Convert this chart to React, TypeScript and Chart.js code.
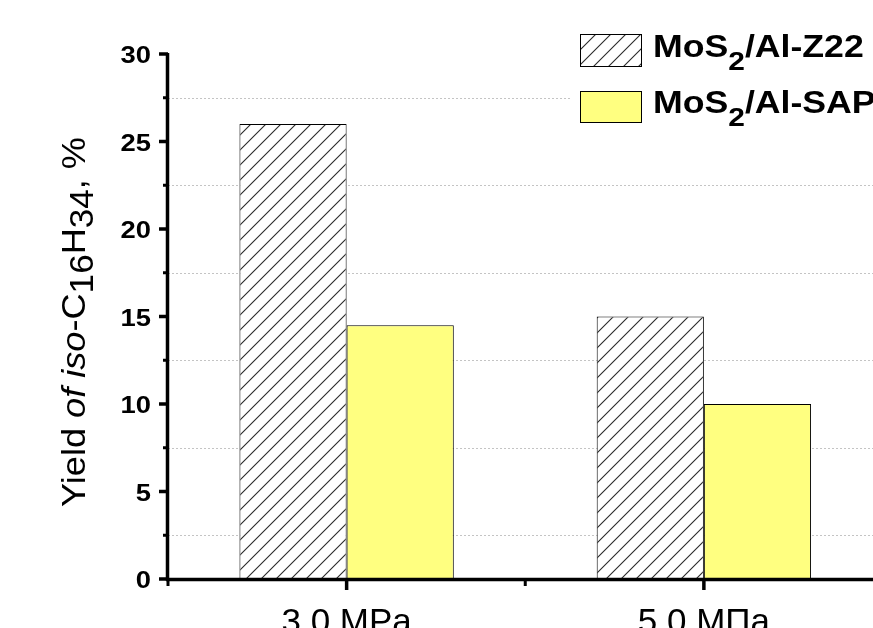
import React, { useEffect, useRef } from 'react';
import { Chart, registerables } from 'chart.js';

Chart.register(...registerables);

// ---- data ----
const categories = ['3.0 MPa', '5.0 МПа'];
const seriesNames = ['MoS2/Al-Z22', 'MoS2/Al-SAP'];
const seriesZ22 = [26, 15];
const seriesSAP = [14.5, 10];
const yMajorTicks = [0, 5, 10, 15, 20, 25, 30];
const yMinorTicks = [2.5, 7.5, 12.5, 17.5, 22.5, 27.5];
const yTitleParts = [
  { t: 'Yield ', k: 'n' },
  { t: 'of iso', k: 'i' },
  { t: '-C', k: 'n' },
  { t: '16', k: 'sub' },
  { t: 'H', k: 'n' },
  { t: '34', k: 'sub' },
  { t: ', %', k: 'n' },
];

const FONT = '"Liberation Sans", Arial, Helvetica, sans-serif';
const YELLOW = '#FFFF80';

function makeHatch() {
  const c = document.createElement('canvas');
  c.width = 15;
  c.height = 15;
  const g = c.getContext('2d')!;
  g.fillStyle = '#fff';
  g.fillRect(0, 0, 15, 15);
  g.strokeStyle = '#2a2a2a';
  g.lineWidth = 1.1;
  g.beginPath();
  g.moveTo(-2, 17);
  g.lineTo(17, -2);
  g.moveTo(-2, 2);
  g.lineTo(2, -2);
  g.moveTo(13, 17);
  g.lineTo(17, 13);
  g.stroke();
  return g.createPattern(c, 'repeat')!;
}

function splitChem(label: string) {
  const m = label.match(/^([A-Za-z]+?)(\d+)(.*)$/);
  return m ? [m[1], m[2], m[3]] : [label, '', ''];
}

function makeDecor(hatch: CanvasPattern) {
  return {
    id: 'decor',
    beforeDatasetsDraw(chart: any) {
      const { ctx, chartArea: a, scales } = chart;
      const y = scales.y;
      ctx.save();
      ctx.strokeStyle = '#c4c4c4';
      ctx.lineWidth = 1;
      ctx.setLineDash([2, 2]);
      yMinorTicks.forEach((v) => {
        const py = Math.round(y.getPixelForValue(v)) + 0.5;
        ctx.beginPath();
        ctx.moveTo(a.left, py);
        ctx.lineTo(a.right, py);
        ctx.stroke();
      });
      ctx.restore();
    },
    afterDraw(chart: any) {
      const { ctx, chartArea: a, scales } = chart;
      const x = scales.x;
      const y = scales.y;
      ctx.save();
      ctx.setLineDash([]);
      ctx.strokeStyle = '#000';
      ctx.fillStyle = '#000';

      // axis lines
      ctx.lineWidth = 3.5;
      ctx.beginPath();
      ctx.moveTo(a.left - 0.5, a.top - 1);
      ctx.lineTo(a.left - 0.5, a.bottom + 2);
      ctx.stroke();
      ctx.beginPath();
      ctx.moveTo(a.left - 2, a.bottom + 0.5);
      ctx.lineTo(a.right + 2, a.bottom + 0.5);
      ctx.stroke();

      // y ticks
      yMajorTicks.forEach((v) => {
        const py = y.getPixelForValue(v);
        ctx.lineWidth = 3.5;
        ctx.beginPath();
        ctx.moveTo(a.left - 9, py);
        ctx.lineTo(a.left, py);
        ctx.stroke();
      });
      yMinorTicks.forEach((v) => {
        const py = y.getPixelForValue(v);
        ctx.lineWidth = 3;
        ctx.beginPath();
        ctx.moveTo(a.left - 5, py);
        ctx.lineTo(a.left, py);
        ctx.stroke();
      });

      // y tick labels
      ctx.font = `bold 24px ${FONT}`;
      ctx.textAlign = 'right';
      ctx.textBaseline = 'alphabetic';
      yMajorTicks.forEach((v) => {
        const py = y.getPixelForValue(v);
        ctx.save();
        ctx.translate(151, py + 9);
        ctx.scale(1.14, 1);
        ctx.fillText(String(v), 0, 0);
        ctx.restore();
      });

      // x ticks
      const centers = categories.map((_, i) => x.getPixelForValue(i));
      const bounds = [a.left, (centers[0] + centers[1]) / 2, a.right];
      centers.forEach((px) => {
        ctx.lineWidth = 3.5;
        ctx.beginPath();
        ctx.moveTo(px, a.bottom);
        ctx.lineTo(px, a.bottom + 11);
        ctx.stroke();
      });
      bounds.forEach((px) => {
        ctx.lineWidth = 3;
        ctx.beginPath();
        ctx.moveTo(px, a.bottom);
        ctx.lineTo(px, a.bottom + 7);
        ctx.stroke();
      });

      // x labels
      ctx.font = `35px ${FONT}`;
      ctx.textAlign = 'center';
      categories.forEach((lab, i) => {
        ctx.fillText(lab, centers[i], 633);
      });

      // y title (rotated, rich text)
      const mainF = `34px ${FONT}`;
      const italF = `italic 34px ${FONT}`;
      const subF = `33px ${FONT}`;
      const fontFor = (k: string) => (k === 'i' ? italF : k === 'sub' ? subF : mainF);
      let total = 0;
      yTitleParts.forEach((p) => {
        ctx.font = fontFor(p.k);
        total += ctx.measureText(p.t).width;
      });
      const targetLen = 370;
      const along = targetLen / total;
      ctx.save();
      ctx.translate(85, 322);
      ctx.rotate(-Math.PI / 2);
      ctx.scale(along, 1);
      ctx.textAlign = 'left';
      let cx = -total / 2;
      yTitleParts.forEach((p) => {
        ctx.font = fontFor(p.k);
        ctx.fillText(p.t, cx, p.k === 'sub' ? 8 : 0);
        cx += ctx.measureText(p.t).width;
      });
      ctx.restore();

      // legend
      ctx.fillStyle = '#fff';
      ctx.fillRect(572, 26, 320, 104);
      const boxes = [
        { y: 34.5, h: 32, fill: hatch as any },
        { y: 91.5, h: 31, fill: YELLOW },
      ];
      const baselines = [57, 113];
      seriesNames.forEach((name, i) => {
        const b = boxes[i];
        ctx.fillStyle = b.fill;
        ctx.fillRect(580.5, b.y, 61, b.h);
        ctx.lineWidth = 1;
        ctx.strokeStyle = '#000';
        ctx.strokeRect(580.5, b.y, 61, b.h);
        const [pre, sub, post] = splitChem(name);
        ctx.fillStyle = '#000';
        ctx.textAlign = 'left';
        ctx.save();
        ctx.translate(653, baselines[i]);
        ctx.scale(1.15, 1);
        let tx = 0;
        ctx.font = `bold 31px ${FONT}`;
        ctx.fillText(pre, tx, 0);
        tx += ctx.measureText(pre).width;
        ctx.font = `bold 26px ${FONT}`;
        ctx.fillText(sub, tx, 13);
        tx += ctx.measureText(sub).width;
        ctx.font = `bold 31px ${FONT}`;
        ctx.fillText(post, tx, 0);
        ctx.restore();
      });

      ctx.restore();
    },
  };
}

export default function App() {
  const ref = useRef<HTMLCanvasElement>(null);
  useEffect(() => {
    const canvas = ref.current!;
    const hatch = makeHatch();
    const chart = new Chart(canvas, {
      type: 'bar',
      data: {
        labels: categories,
        datasets: [
          {
            label: seriesNames[0],
            data: seriesZ22,
            backgroundColor: hatch as any,
            borderColor: '#000',
            borderWidth: 1,
            categoryPercentage: 0.6,
            barPercentage: 1,
          },
          {
            label: seriesNames[1],
            data: seriesSAP,
            backgroundColor: YELLOW,
            borderColor: '#000',
            borderWidth: 1,
            categoryPercentage: 0.6,
            barPercentage: 1,
          },
        ],
      },
      options: {
        responsive: false,
        animation: false,
        devicePixelRatio: 1,
        events: [],
        layout: { padding: { left: 0, top: 54, right: 17.5, bottom: 0 } },
        plugins: { legend: { display: false }, tooltip: { enabled: false } },
        scales: {
          x: {
            type: 'category',
            offset: true,
            grid: { display: false },
            border: { display: false },
            ticks: { display: false },
            afterFit: (s: any) => {
              s.height = 61;
            },
          },
          y: {
            min: 0,
            max: 30,
            grid: { display: false },
            border: { display: false },
            ticks: { display: false, stepSize: 5 },
            afterFit: (s: any) => {
              s.width = 168;
            },
          },
        },
      },
      plugins: [makeDecor(hatch)],
    } as any);
    return () => chart.destroy();
  }, []);
  return (
    <div
      style={{
        position: 'fixed',
        left: 0,
        top: 0,
        width: 873,
        height: 628,
        overflow: 'hidden',
        background: '#fff',
      }}
    >
      <canvas ref={ref} width={900} height={640} style={{ display: 'block', width: 900, height: 640 }} />
    </div>
  );
}
